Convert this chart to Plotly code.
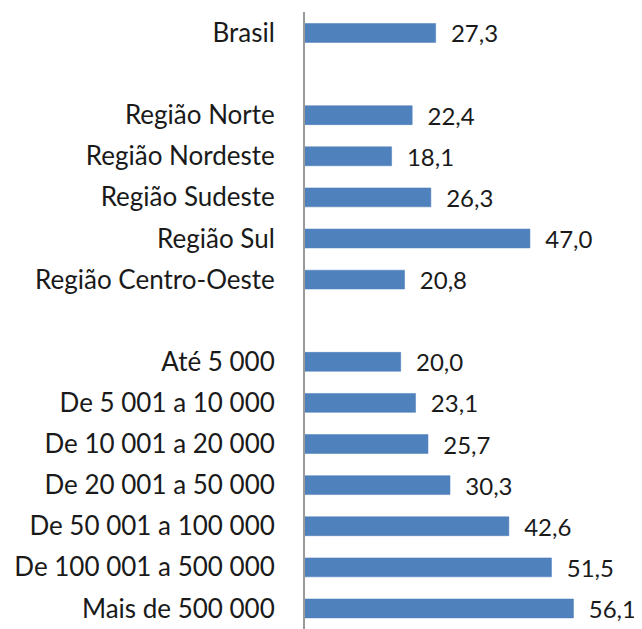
import plotly.graph_objects as go

categories = ["Brasil", " ", "Região Norte", "Região Nordeste", "Região Sudeste",
              "Região Sul", "Região Centro-Oeste", "  ", "Até 5 000",
              "De 5 001 a 10 000", "De 10 001 a 20 000", "De 20 001 a 50 000",
              "De 50 001 a 100 000", "De 100 001 a 500 000", "Mais de 500 000"]
values = [27.3, None, 22.4, 18.1, 26.3, 47.0, 20.8, None, 20.0,
          23.1, 25.7, 30.3, 42.6, 51.5, 56.1]

FONT = "Lato"
FS = 26
VFS = 24

fig = go.Figure(go.Bar(
    y=categories, x=values, orientation="h",
    marker=dict(color="#4F81BD", line=dict(color="#4A7CBA", width=0.5)),
    width=0.46,
    text=[None if v is None else "  " + f"{v:.1f}".replace(".", ",") for v in values],
    textposition="outside", cliponaxis=False, constraintext="none",
    textfont=dict(family=FONT, size=VFS, color="#1a1a1a"),
))

fig.update_layout(
    width=650, height=621,
    margin=dict(l=297, r=18, t=4, b=0),
    paper_bgcolor="white", plot_bgcolor="white",
    showlegend=False,
    font=dict(family=FONT, size=FS, color="#1a1a1a"),
    xaxis=dict(range=[0, 70], visible=False),
    yaxis=dict(type="category", categoryorder="array", categoryarray=categories,
               autorange=False, range=[14.5, -0.51],
               showline=True, linecolor="#9a9a9a", linewidth=2,
               ticks="outside", ticklen=23, tickcolor="rgba(0,0,0,0)",
               showgrid=False, automargin=False,
               tickfont=dict(family=FONT, size=FS, color="#1a1a1a")),
)

fig.write_html("out.html")
